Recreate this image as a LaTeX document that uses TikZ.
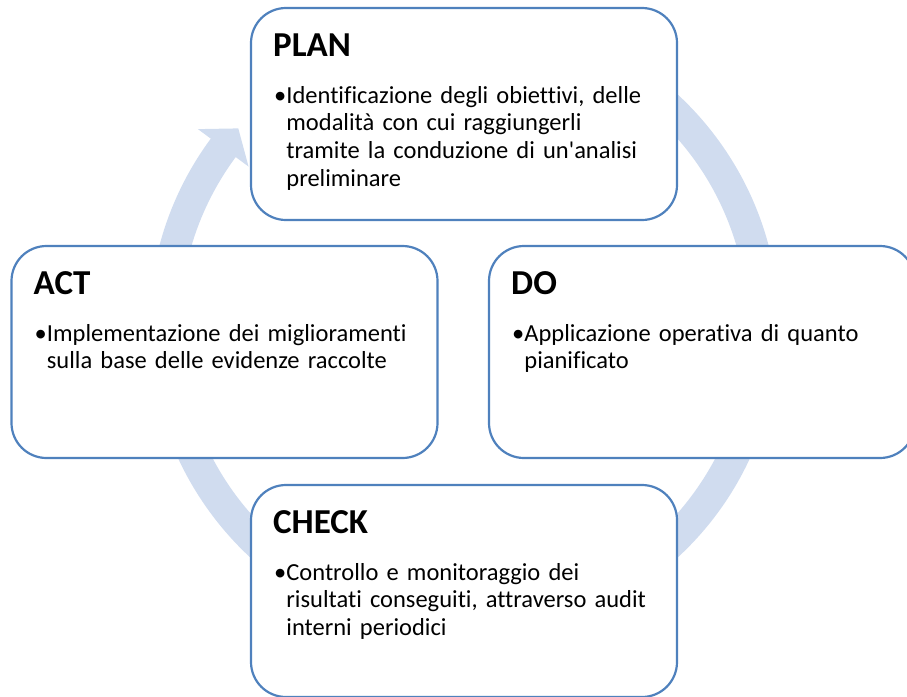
\documentclass[tikz,border=0pt]{standalone}
\usepackage{fontspec}
\setmainfont{Carlito}[Ligatures={NoCommon}]
\definecolor{boxblue}{RGB}{79,129,189}
\definecolor{ringblue}{RGB}{208,220,239}
\newcommand{\bitem}[1]{\setbox0\hbox{•}\hangindent=\wd0 \hangafter=1 \noindent\copy0\rule{0pt}{20pt}#1\par}
\begin{document}
\begin{tikzpicture}[x=1pt,y=1pt,
  stagebox/.style={draw=boxblue, line width=2.2pt, fill=white, rounded corners=35pt,
    minimum width=426pt, minimum height=212pt, inner sep=0pt, outer sep=0pt},
  stagetitle/.style={anchor=base west, inner sep=0pt, font=\fontsize{35}{42}\selectfont\bfseries},
  stagebody/.style={anchor=north west, inner sep=0pt, text width=410pt, font=\fontsize{24.5}{27.7}\selectfont}]
\useasboundingbox (0,0) rectangle (907,-696);
\clip (0,0) rectangle (907,-696);
% circular arrow
\begin{scope}[shift={(464,-326)}]
\fill[ringblue] (125:315) arc[start angle=125,end angle=-216.5,radius=315]
  -- (143.5:331) -- (138.8:300) -- (143.5:268) -- (143.5:284)
  arc[start angle=-216.5,end angle=125,radius=284] -- cycle;
\end{scope}
% boxes
\node[stagebox] (plan) at (464,-114) {};
\node[stagebox] (act) at (224.5,-352) {};
\node[stagebox] (do) at (702,-352) {};
\node[stagebox] (check) at (464,-591) {};
% titles
\node[stagetitle] (plantitle) at ([xshift=22pt,yshift=-48pt]plan.north west) {PLAN};
\node[stagetitle] (acttitle) at ([xshift=22pt,yshift=-48pt]act.north west) {ACT};
\node[stagetitle] (dotitle) at ([xshift=22pt,yshift=-48pt]do.north west) {DO};
\node[stagetitle] (checktitle) at ([xshift=22pt,yshift=-48pt]check.north west) {CHECK};
% bodies
\node[stagebody] (planbody) at ([xshift=23pt,yshift=-75pt]plan.north west)
  {\bitem{Identificazione degli obiettivi, delle\newline modalità con cui raggiungerli\newline tramite la conduzione di un\textquotesingle analisi\newline preliminare}};
\node[stagebody] (actbody) at ([xshift=23pt,yshift=-75pt]act.north west)
  {\bitem{Implementazione dei miglioramenti\newline sulla base delle evidenze raccolte}};
\node[stagebody] (dobody) at ([xshift=23pt,yshift=-75pt]do.north west)
  {\bitem{Applicazione operativa di quanto\newline pianificato}};
\node[stagebody] (checkbody) at ([xshift=23pt,yshift=-75pt]check.north west)
  {\bitem{Controllo e monitoraggio dei\newline risultati conseguiti, attraverso audit\newline interni periodici}};
\end{tikzpicture}
\end{document}
